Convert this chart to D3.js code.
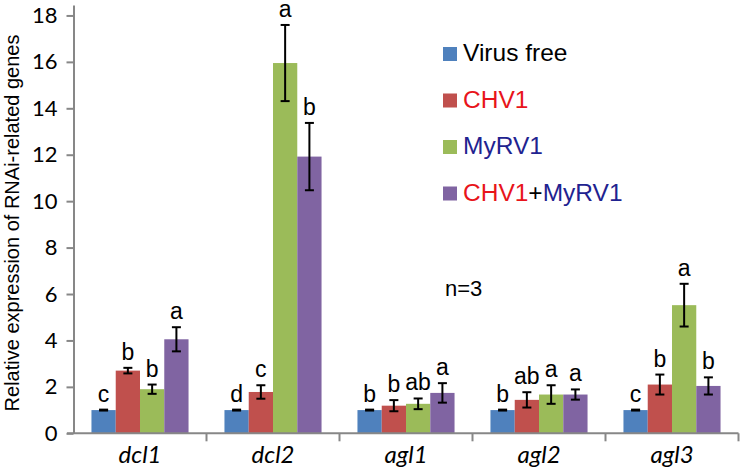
<!DOCTYPE html>
<html>
<head>
<meta charset="utf-8">
<script src="https://cdn.jsdelivr.net/npm/d3@7/dist/d3.min.js"></script>
<style>
  body { margin: 0; background: #fff; }
  svg { display: block; }
</style>
</head>
<body>
<div id="chart"></div>
<script>
const genes = ["dcl1", "dcl2", "agl1", "agl2", "agl3"];
const groups = ["Virus free", "CHV1", "MyRV1", "CHV1+MyRV1"];

const virusFree = [1.0, 1.0, 1.0, 1.0, 1.0];
const chv1 = [2.7, 1.78, 1.19, 1.44, 2.1];
const myrv1 = [1.9, 15.95, 1.27, 1.67, 5.52];
const chv1Myrv1 = [4.05, 11.92, 1.74, 1.67, 2.04];

const virusFreeErr = [0.02, 0.02, 0.02, 0.02, 0.02];
const chv1Err = [0.12, 0.29, 0.24, 0.33, 0.43];
const myrv1Err = [0.2, 1.64, 0.23, 0.4, 0.92];
const chv1Myrv1Err = [0.52, 1.45, 0.42, 0.22, 0.37];

const virusFreeLetters = ["c", "d", "b", "b", "c"];
const chv1Letters = ["b", "c", "b", "ab", "b"];
const myrv1Letters = ["b", "a", "ab", "a", "a"];
const chv1Myrv1Letters = ["a", "b", "a", "a", "b"];

const yTicks = [0, 2, 4, 6, 8, 10, 12, 14, 16, 18];

// legend labels, some words coloured by virus
const legendLabels = [
  [{ t: "Virus free", c: "#000" }],
  [{ t: "CHV1", c: "#e8141b" }],
  [{ t: "MyRV1", c: "#1f2390" }],
  [{ t: "CHV1", c: "#e8141b" }, { t: "+", c: "#000" }, { t: "MyRV1", c: "#1f2390" }],
];

const seriesValues = [virusFree, chv1, myrv1, chv1Myrv1];
const seriesErr = [virusFreeErr, chv1Err, myrv1Err, chv1Myrv1Err];
const seriesLetters = [virusFreeLetters, chv1Letters, myrv1Letters, chv1Myrv1Letters];

const width = 742;
const height = 471;
const axisColor = "#878787";

const color = d3
  .scaleOrdinal()
  .domain(groups)
  .range(["#4f81bd", "#c0504d", "#9bbb59", "#8064a2"]);

const svg = d3
  .select("#chart")
  .append("svg")
  .attr("width", width)
  .attr("height", height);

const x0 = d3.scaleBand().domain(genes).range([73.5, 738.5]).padding(0);
const x1 = d3
  .scaleBand()
  .domain(groups)
  .range([0, x0.bandwidth()])
  .paddingInner(0)
  .paddingOuter(0.74);

const y = d3.scaleLinear().domain([0, 18.45]).range([433.3, 5]);

const data = [];
genes.forEach((g, i) => {
  groups.forEach((s, j) => {
    data.push({
      gene: g,
      group: s,
      value: seriesValues[j][i],
      err: seriesErr[j][i],
      letter: seriesLetters[j][i],
    });
  });
});

// bars
svg
  .append("g")
  .selectAll("rect")
  .data(data)
  .enter()
  .append("rect")
  .attr("x", (d) => x0(d.gene) + x1(d.group))
  .attr("y", (d) => y(d.value))
  .attr("width", x1.bandwidth())
  .attr("height", (d) => y(0) - y(d.value))
  .attr("fill", (d) => color(d.group));

// error bars
const cx = (d) => x0(d.gene) + x1(d.group) + x1.bandwidth() / 2;
const errG = svg.append("g").attr("stroke", "#000").attr("stroke-width", 2);
errG
  .selectAll("line.v")
  .data(data)
  .enter()
  .append("line")
  .attr("class", "v")
  .attr("x1", cx)
  .attr("x2", cx)
  .attr("y1", (d) => y(d.value + d.err))
  .attr("y2", (d) => y(d.value - d.err));
errG
  .selectAll("line.top")
  .data(data)
  .enter()
  .append("line")
  .attr("class", "top")
  .attr("x1", (d) => cx(d) - 4.5)
  .attr("x2", (d) => cx(d) + 4.5)
  .attr("y1", (d) => y(d.value + d.err))
  .attr("y2", (d) => y(d.value + d.err));
errG
  .selectAll("line.bot")
  .data(data)
  .enter()
  .append("line")
  .attr("class", "bot")
  .attr("x1", (d) => cx(d) - 4.5)
  .attr("x2", (d) => cx(d) + 4.5)
  .attr("y1", (d) => y(d.value - d.err))
  .attr("y2", (d) => y(d.value - d.err));

// significance letters
svg
  .append("g")
  .selectAll("text")
  .data(data)
  .enter()
  .append("text")
  .attr("x", cx)
  .attr("y", (d) => y(d.value + d.err) - 8)
  .attr("text-anchor", "middle")
  .attr("fill", "#000")
  .style("font-family", "'Liberation Sans', Arial, sans-serif")
  .style("font-size", "23px")
  .text((d) => d.letter);

// y axis
const yAxis = d3
  .axisLeft(y)
  .tickValues(yTicks)
  .tickSize(7)
  .tickPadding(9)
  .tickSizeOuter(0);

const yAxisG = svg.append("g").attr("transform", "translate(73.5,0)").call(yAxis);
yAxisG.select(".domain").attr("stroke", axisColor).attr("stroke-width", 2);
yAxisG.selectAll(".tick line").attr("stroke", axisColor).attr("stroke-width", 2);
yAxisG
  .selectAll(".tick text")
  .attr("fill", "#000")
  .style("font-family", "Lato, 'Open Sans', sans-serif")
  .style("font-size", "22px");

svg
  .append("text")
  .attr("transform", `translate(18.5,${223}) rotate(-90)`)
  .attr("text-anchor", "middle")
  .attr("fill", "#000")
  .style("font-family", "'Liberation Sans', Arial, sans-serif")
  .style("font-size", "20px")
  .text("Relative expression of RNAi-related genes");

// x axis: ticks at category boundaries
const xAxisG = svg.append("g");
xAxisG
  .append("line")
  .attr("x1", 67)
  .attr("x2", x0.range()[1])
  .attr("y1", y(0))
  .attr("y2", y(0))
  .attr("stroke", axisColor)
  .attr("stroke-width", 2);
xAxisG
  .selectAll("line.tick")
  .data(genes)
  .enter()
  .append("line")
  .attr("class", "tick")
  .attr("x1", (d) => x0(d) + x0.bandwidth())
  .attr("x2", (d) => x0(d) + x0.bandwidth())
  .attr("y1", y(0))
  .attr("y2", y(0) + 8)
  .attr("stroke", axisColor)
  .attr("stroke-width", 2);
xAxisG
  .selectAll("text")
  .data(genes)
  .enter()
  .append("text")
  .attr("x", (d) => x0(d) + x0.bandwidth() / 2)
  .attr("y", 463)
  .attr("text-anchor", "middle")
  .attr("fill", "#000")
  .style("font-family", "Lato, 'Open Sans', sans-serif")
  .style("font-style", "italic")
  .style("font-size", "24px")
  .text((d) => d);

// n=3 note
svg
  .append("text")
  .attr("x", 445)
  .attr("y", 296)
  .attr("fill", "#000")
  .style("font-family", "'Liberation Sans', Arial, sans-serif")
  .style("font-size", "22px")
  .text("n=3");

// legend
const legend = svg.append("g").attr("transform", "translate(443,61)");
const items = legend
  .selectAll("g")
  .data(groups)
  .enter()
  .append("g")
  .attr("transform", (_d, i) => `translate(0,${i * 46.5})`);

items
  .append("rect")
  .attr("x", 0)
  .attr("y", -14)
  .attr("width", 14)
  .attr("height", 14)
  .attr("fill", (d) => color(d));

items
  .append("text")
  .attr("x", 20)
  .attr("y", 0)
  .style("font-family", "'Liberation Sans', Arial, sans-serif")
  .style("font-size", "24.5px")
  .selectAll("tspan")
  .data((_d, i) => legendLabels[i])
  .enter()
  .append("tspan")
  .attr("fill", (p) => p.c)
  .text((p) => p.t);
</script>
</body>
</html>
